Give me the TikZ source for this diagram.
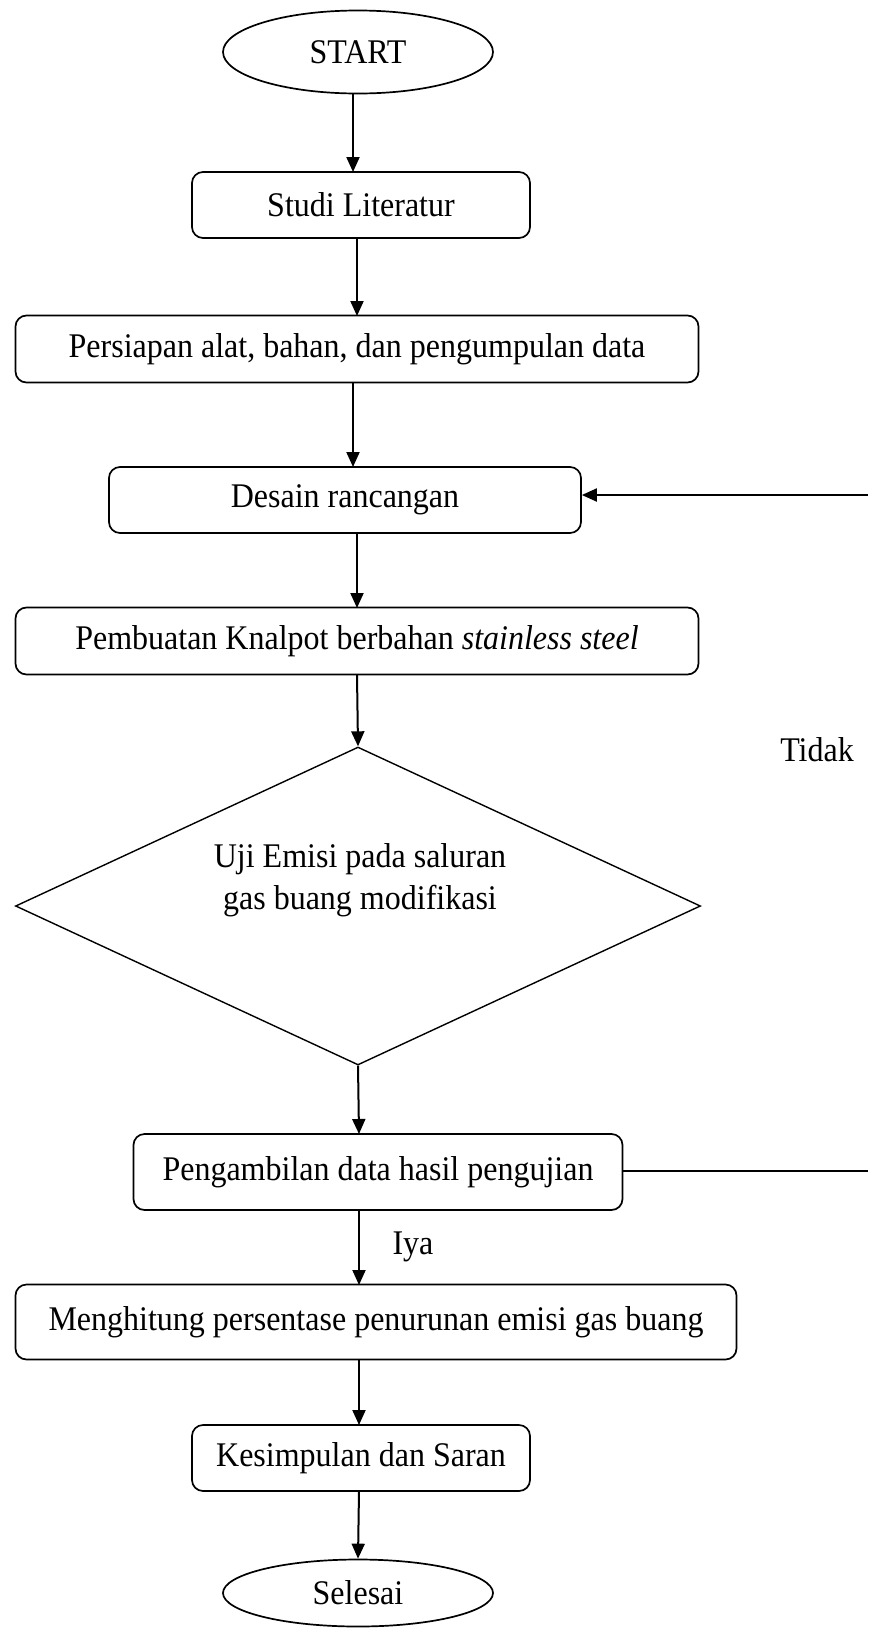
\documentclass[tikz,border=0pt]{standalone}
\usepackage{fontspec}
\setmainfont{Liberation Serif}
\usetikzlibrary{shapes.geometric,arrows.meta}
\newcommand{\tall}[1]{\scalebox{1}[1.08]{#1}}
\begin{document}
\begin{tikzpicture}[x=1pt,y=-1pt,
  every node/.style={font=\fontsize{32}{42}\selectfont},
  proc/.style={draw,line width=1.7pt,rounded corners=11pt,inner sep=0pt},
  term/.style={draw,line width=1.7pt,ellipse,inner sep=0pt},
  conn/.style={line width=2pt,-{Triangle[length=15pt,width=13pt]}},
  plain/.style={line width=2pt}]
\useasboundingbox (0,0) rectangle (868,1628);
\node[term,minimum width=270,minimum height=83] (start) at (358,52) {\tall{START}};
\node[proc,minimum width=338,minimum height=66] (studi) at (361,205) {\tall{Studi Literatur}};
\node[proc,minimum width=683,minimum height=67] (persiapan) at (357,349) {\tall{Persiapan alat, bahan, dan pengumpulan data}};
\node[proc,minimum width=472,minimum height=66] (desain) at (345,500) {\tall{Desain rancangan}};
\node[proc,minimum width=683,minimum height=67] (pembuatan) at (357,641) {\tall{Pembuatan Knalpot berbahan \textit{stainless steel}}};
\node[draw,line width=1.4pt,diamond,aspect=2.154,minimum width=685,minimum height=318,inner sep=0pt] (uji) at (358,906) {};
\node[align=center] (ujitext) at (360,880) {\tall{Uji Emisi pada saluran}\\\tall{gas buang modifikasi}};
\node[proc,minimum width=489,minimum height=76] (ambil) at (378,1172) {\tall{Pengambilan data hasil pengujian}};
\node[proc,minimum width=721,minimum height=75] (hitung) at (376,1322) {\tall{Menghitung persentase penurunan emisi gas buang}};
\node[proc,minimum width=338,minimum height=66] (kesimpulan) at (361,1458) {\tall{Kesimpulan dan Saran}};
\node[term,minimum width=270,minimum height=67] (selesai) at (358,1593) {\tall{Selesai}};
\node (tidak) at (817,750) {\tall{Tidak}};
\node (iya) at (413,1247) {\tall{Iya}};
\coordinate (r1) at (868,495);
\coordinate (r2) at (868,1171);
\draw[conn] (353,93) -- (353,172);
\draw[conn] (357,238) -- (357,316);
\draw[conn] (353,383) -- (353,467);
\draw[conn] (357,533) -- (357,608);
\draw[conn] (357,675) -- (uji.north);
\draw[conn] (uji.south) -- (359,1134);
\draw[conn] (359,1210) -- (359,1285);
\draw[conn] (359,1360) -- (359,1425);
\draw[conn] (359,1491) -- (selesai.north);
\draw[conn] (r1) -- (desain.east |- r1);
\draw[plain] (ambil.east |- r2) -- (r2);
\end{tikzpicture}
\end{document}
